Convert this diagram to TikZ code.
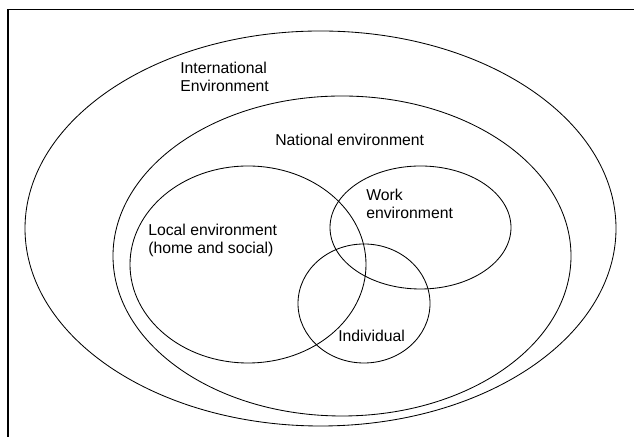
\documentclass[tikz,border=0pt]{standalone}
\usepackage{fontspec}
\setmainfont{Liberation Sans}
\usepackage{tikz}
\usepackage{xcolor}
\tikzset{ring/.style = {line width = 0.6pt}}
\tikzset{label/.style = {anchor = north west, inner sep = 0pt, align = left, font = \fontsize{11.2}{12.8}\selectfont}}

\begin{document}
\begin{tikzpicture}
	  \useasboundingbox (0, 0) rectangle (15.85, 10.925);
	  % 边框
	  \draw[line width = 1pt] (0.2, 0) -- (0.2, 10.6875) -- (15.85, 10.6875);
	  % 椭圆
	  \draw[ring] (8.0125, 5.2125) ellipse (7.3875 and 4.9375);
	  \draw[ring] (8.55, 4.525) ellipse (5.725 and 4.0);
	  \draw[ring] (6.2, 4.3125) ellipse (2.95 and 2.4625);
	  \draw[ring] (10.5125, 5.2375) ellipse (2.2625 and 1.5375);
	  \draw[ring] (9.1, 3.3375) ellipse (1.65 and 1.4875);
	  % 说明文字
	  \node[label] (intl) at (4.5, 9.375) {International\\Environment};
	  \node[label] (natl) at (6.875, 7.575) {National environment};
	  \node[label] (work) at (9.15, 6.2) {Work\\environment};
	  \node[label] (local) at (3.7, 5.325) {Local environment\\(home and social)};
	  \node[label] (indiv) at (8.45, 2.675) {Individual};
	\end{tikzpicture}
\end{document}
